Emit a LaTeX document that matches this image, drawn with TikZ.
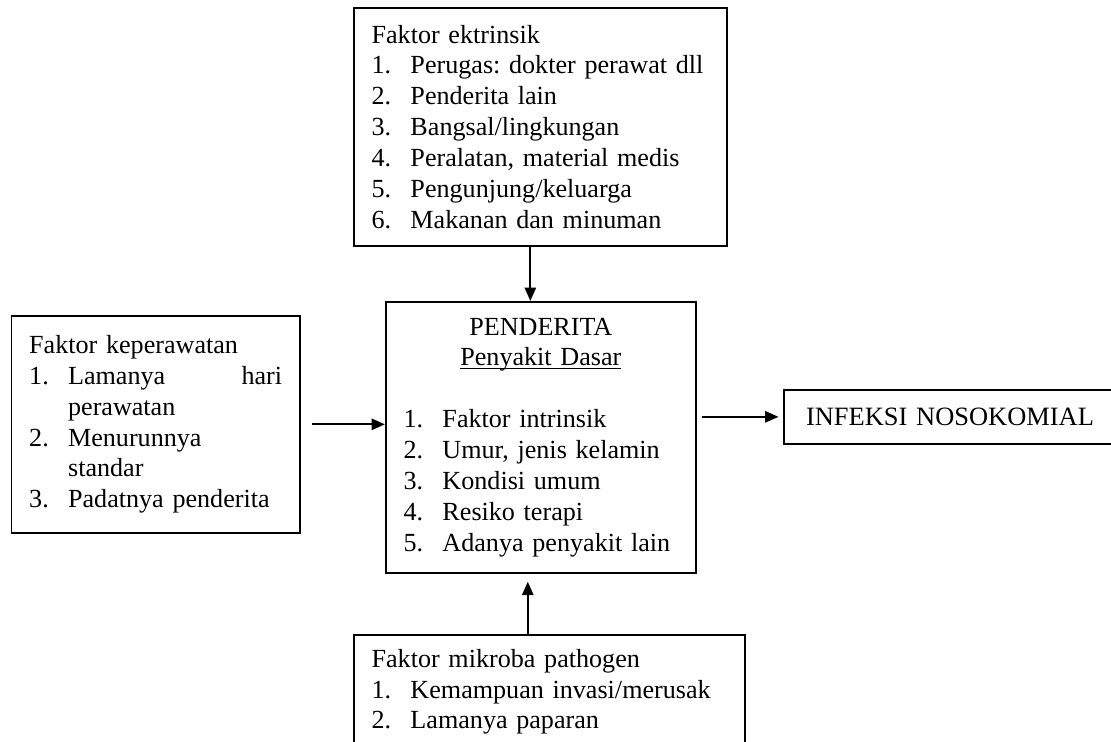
\documentclass[tikz,border=0pt]{standalone}
\usepackage{fontspec}
\setmainfont{Liberation Serif}
\usetikzlibrary{arrows.meta}
\frenchspacing
\newcommand{\butir}[2]{\makebox[17.5pt][l]{#1}#2}
\newcommand{\lanjut}[1]{\hspace*{17.5pt}#1}
\newcommand{\garisbawah}[1]{\setbox0\hbox{#1}\rlap{\rule[-1.4pt]{\wd0}{0.55pt}}\box0}

\begin{document}
\begin{tikzpicture}[x=0.45pt, y=0.45pt,
  kotak/.style={draw, line width=0.75pt, anchor=north west, align=left, inner xsep=8pt, inner ysep=0pt, font=\fontsize{11.75}{13.9}\selectfont},
  panah/.style={line width=1pt, -{Triangle[length=6pt,width=5pt]}}]
\path[use as bounding box] (0,0) rectangle (1111,-742);
\clip (0,0) rectangle (1111,-742);

\node[kotak, text width=151.85pt, minimum height=107.1pt] (ekstrinsik) at (353,-7) {Faktor ektrinsik\\
  \butir{1.}{Perugas: dokter perawat dll}\\
  \butir{2.}{Penderita lain}\\
  \butir{3.}{Bangsal/lingkungan}\\
  \butir{4.}{Peralatan, material medis}\\
  \butir{5.}{Pengunjung/keluarga}\\
  \butir{6.}{Makanan dan minuman}};
\node[kotak, text width=123.5pt, minimum height=121.95pt] (penderita) at (385,-301) {\makebox[123.5pt]{PENDERITA}\\
  \makebox[123.5pt]{\garisbawah{Penyakit Dasar}}\\[13.9pt]
  \butir{1.}{Faktor intrinsik}\\
  \butir{2.}{Umur, jenis kelamin}\\
  \butir{3.}{Kondisi umum}\\
  \butir{4.}{Resiko terapi}\\
  \butir{5.}{Adanya penyakit lain}};
\node[kotak, text width=113.8pt, minimum height=97.65pt] (perawatan) at (10.6,-315) {Faktor keperawatan\\
  \butir{1.}{Lamanya\hfill hari}\\
  \lanjut{perawatan}\\
  \butir{2.}{Menurunnya}\\
  \lanjut{standar}\\
  \butir{3.}{Padatnya penderita}};
\node[kotak, inner xsep=10pt, text width=133pt, minimum height=24.3pt, font=\fontsize{11.9}{13.9}\selectfont] (infeksi) at (783,-389) {INFEKSI NOSOKOMIAL};
\node[kotak, text width=159.95pt, minimum height=51.3pt] (mikroba) at (353,-634) {Faktor mikroba pathogen\\
  \butir{1.}{Kemampuan invasi/merusak}\\
  \butir{2.}{Lamanya paparan}};

\draw[panah] ([xshift=-4.5pt]ekstrinsik.south) -- ([xshift=-4.5pt]ekstrinsik.south |- penderita.north);
\draw[panah] ([xshift=5pt]perawatan.east) -- (perawatan.east -| penderita.west);
\draw[panah, shorten >=2pt] ([xshift=2.25pt]penderita.east |- infeksi.west) -- (infeksi.west);
\draw[panah, shorten >=3.6pt] ([xshift=-9.7pt]mikroba.north) -- ([xshift=-9.7pt]mikroba.north |- penderita.south);
\end{tikzpicture}
\end{document}
